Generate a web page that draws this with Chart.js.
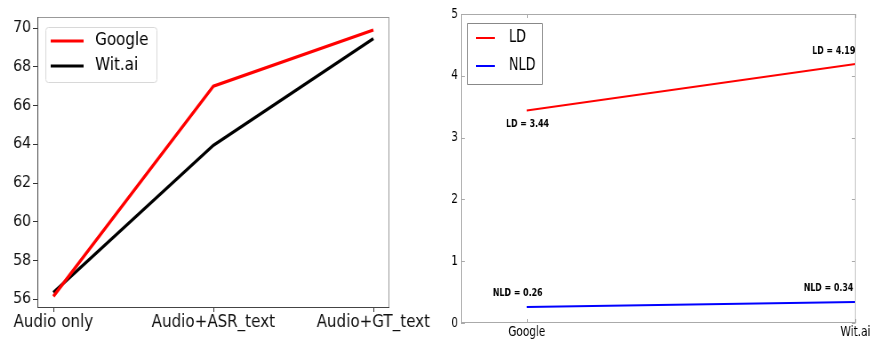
<!DOCTYPE html>
<html>
<head>
<meta charset="utf-8">
<script src="https://cdn.jsdelivr.net/npm/chart.js@4"></script>
<style>
  body { margin: 0; background: #fff; overflow: hidden; }
  canvas { position: absolute; top: 0; transform-origin: 0 0; }
  /* the original figure is squeezed sideways, so each canvas is drawn wider and narrowed */
  #acc-chart { left: 0; transform: scaleX(0.8889); }
  #dist-chart { left: 440px; transform: scaleX(0.75); }
</style>
</head>
<body>
<canvas id="acc-chart" width="495" height="339"></canvas>
<canvas id="dist-chart" width="575" height="339"></canvas>
<script>
// left panel: accuracy per input condition
const conditions = ['Audio only', 'Audio+ASR_text', 'Audio+GT_text'];
const googleAcc = [56.15, 67.0, 69.9];
const witAcc = [56.35, 63.95, 69.45];
const accTicks = [56, 58, 60, 62, 64, 66, 68, 70];

// right panel: LD / NLD per ASR engine
const engines = ['Google', 'Wit.ai'];
const ldValues = [3.44, 4.19];
const nldValues = [0.26, 0.34];
const distTicks = [0, 1, 2, 3, 4, 5];

const toPoints = vals => vals.map((v, i) => ({ x: i, y: v }));

// frame round the plot area
const framePlugin = (colors) => ({
    id: 'frame',
    afterDraw(chart) {
        const { ctx, chartArea: a } = chart;
        ctx.save();
        ctx.lineWidth = 1;
        const side = (c, x1, y1, x2, y2) => {
            ctx.strokeStyle = c;
            ctx.beginPath();
            ctx.moveTo(x1, y1);
            ctx.lineTo(x2, y2);
            ctx.stroke();
        };
        side(colors.top, a.left, a.top + 0.5, a.right, a.top + 0.5);
        side(colors.right, a.right - 0.5, a.top, a.right - 0.5, a.bottom);
        side(colors.bottom, a.left, a.bottom - 0.5, a.right, a.bottom - 0.5);
        side(colors.left, a.left + 0.5, a.top, a.left + 0.5, a.bottom);
        ctx.restore();
    }
});

// legend drawn inside the plot, from the datasets
const insideLegend = (opt) => ({
    id: 'insideLegend',
    afterDraw(chart) {
        const ctx = chart.ctx;
        ctx.save();
        ctx.fillStyle = 'rgba(255,255,255,0.9)';
        ctx.strokeStyle = opt.border;
        ctx.lineWidth = 1;
        ctx.beginPath();
        if (opt.radius) ctx.roundRect(opt.x + 0.5, opt.y + 0.5, opt.w, opt.h, opt.radius);
        else ctx.rect(opt.x + 0.5, opt.y + 0.5, opt.w, opt.h);
        ctx.fill();
        ctx.stroke();
        ctx.font = opt.font;
        ctx.textBaseline = 'middle';
        chart.data.datasets.forEach((ds, i) => {
            const y = opt.firstY + i * opt.rowGap;
            ctx.strokeStyle = ds.borderColor;
            ctx.lineWidth = ds.borderWidth;
            ctx.beginPath();
            ctx.moveTo(opt.x + opt.lineX1, y);
            ctx.lineTo(opt.x + opt.lineX2, y);
            ctx.stroke();
            ctx.fillStyle = '#000';
            ctx.fillText(ds.label, opt.x + opt.textX, y);
        });
        ctx.restore();
    }
});

new Chart(document.getElementById('acc-chart'), {
    type: 'line',
    data: {
        datasets: [
            { label: 'Google', data: toPoints(googleAcc), borderColor: '#ff0000', borderWidth: 3.2, pointRadius: 0 },
            { label: 'Wit.ai', data: toPoints(witAcc), borderColor: '#000000', borderWidth: 3.2, pointRadius: 0 }
        ]
    },
    options: {
        responsive: false,
        animation: false,
        layout: { padding: { top: 17, right: 57, left: 0, bottom: 0 } },
        plugins: { legend: { display: false }, tooltip: { enabled: false } },
        scales: {
            x: {
                type: 'linear',
                min: -0.1,
                max: 2.1,
                afterBuildTicks: s => { s.ticks = conditions.map((c, i) => ({ value: i })); },
                afterFit: s => { s.height = 31; s.paddingLeft = 0; s.paddingRight = 0; },
                grid: { drawOnChartArea: false, drawTicks: true, tickLength: 4, color: '#333' },
                border: { display: false },
                ticks: {
                    color: '#111',
                    padding: 0,
                    maxRotation: 0,
                    font: { family: 'DejaVu Sans', size: 17 },
                    callback: v => conditions[v]
                }
            },
            y: {
                min: 55.55,
                max: 70.57,
                afterBuildTicks: s => { s.ticks = accTicks.map(v => ({ value: v })); },
                afterFit: s => { s.width = 42; },
                grid: { drawOnChartArea: false, drawTicks: true, tickLength: 5, color: '#333' },
                border: { display: false },
                ticks: {
                    color: '#111',
                    padding: 2,
                    font: { family: 'DejaVu Sans', size: 16 }
                }
            }
        }
    },
    plugins: [
        framePlugin({ top: '#999', right: '#999', bottom: '#444', left: '#444' }),
        insideLegend({
            x: 51, y: 27, w: 125, h: 55, radius: 3, border: '#d8d8d8',
            lineX1: 6, lineX2: 43, textX: 56, firstY: 41, rowGap: 25,
            font: '17px "DejaVu Sans"'
        })
    ]
});

// value labels next to each point of the right panel
const labelOffsets = [
    [[1, 14], [-29, -13]],
    [[-12, -14], [-36, -14]]
];

const valueLabels = {
    id: 'valueLabels',
    afterDatasetsDraw(chart) {
        const { ctx, scales } = chart;
        ctx.save();
        ctx.font = 'bold 10.5px "DejaVu Sans"';
        ctx.fillStyle = '#000';
        ctx.textAlign = 'center';
        ctx.textBaseline = 'middle';
        chart.data.datasets.forEach((ds, di) => {
            ds.data.forEach((p, i) => {
                const [dx, dy] = labelOffsets[di][i];
                const px = scales.x.getPixelForValue(p.x) + dx;
                const py = scales.y.getPixelForValue(p.y) + dy;
                ctx.fillText(ds.label + ' = ' + p.y.toFixed(2), px, py);
            });
        });
        ctx.restore();
    }
};

// classic inward tick marks on all four sides
const innerTicks = {
    id: 'innerTicks',
    afterDraw(chart) {
        const { ctx, chartArea: a, scales } = chart;
        ctx.save();
        ctx.strokeStyle = '#aaa';
        ctx.lineWidth = 1;
        ctx.beginPath();
        scales.y.ticks.forEach(t => {
            const y = Math.round(scales.y.getPixelForValue(t.value)) + 0.5;
            ctx.moveTo(a.left, y); ctx.lineTo(a.left + 5, y);
            ctx.moveTo(a.right, y); ctx.lineTo(a.right - 5, y);
        });
        scales.x.ticks.forEach(t => {
            const x = Math.round(scales.x.getPixelForValue(t.value)) + 0.5;
            ctx.moveTo(x, a.bottom); ctx.lineTo(x, a.bottom - 4);
            ctx.moveTo(x, a.top); ctx.lineTo(x, a.top + 4);
        });
        ctx.stroke();
        ctx.restore();
    }
};

new Chart(document.getElementById('dist-chart'), {
    type: 'line',
    data: {
        datasets: [
            { label: 'LD', data: toPoints(ldValues), borderColor: '#ff0000', borderWidth: 2, pointRadius: 0 },
            { label: 'NLD', data: toPoints(nldValues), borderColor: '#0000ff', borderWidth: 2, pointRadius: 0 }
        ]
    },
    options: {
        responsive: false,
        animation: false,
        layout: { padding: { top: 14, right: 21, left: 0, bottom: 0 } },
        plugins: { legend: { display: false }, tooltip: { enabled: false } },
        scales: {
            x: {
                type: 'linear',
                min: -0.2,
                max: 1,
                afterBuildTicks: s => { s.ticks = engines.map((e, i) => ({ value: i })); },
                afterFit: s => { s.height = 16; s.paddingLeft = 0; s.paddingRight = 0; },
                grid: { display: false, drawTicks: false },
                border: { display: false },
                ticks: {
                    color: '#000',
                    padding: 1,
                    maxRotation: 0,
                    font: { family: 'DejaVu Sans', size: 14 },
                    callback: v => engines[v]
                }
            },
            y: {
                min: 0,
                max: 5,
                afterBuildTicks: s => { s.ticks = distTicks.map(v => ({ value: v })); },
                afterFit: s => { s.width = 28; s.paddingTop = 0; s.paddingBottom = 0; },
                grid: { display: false, drawTicks: false },
                border: { display: false },
                ticks: {
                    color: '#000',
                    padding: 4,
                    font: { family: 'DejaVu Sans', size: 14 }
                }
            }
        }
    },
    plugins: [
        framePlugin({ top: '#aaa', right: '#aaa', bottom: '#aaa', left: '#aaa' }),
        innerTicks,
        valueLabels,
        insideLegend({
            x: 36, y: 23, w: 100, h: 61, radius: 0, border: '#888',
            lineX1: 12, lineX2: 37, textX: 56, firstY: 38, rowGap: 28,
            font: '17px "DejaVu Sans"'
        })
    ]
});
</script>
</body>
</html>
